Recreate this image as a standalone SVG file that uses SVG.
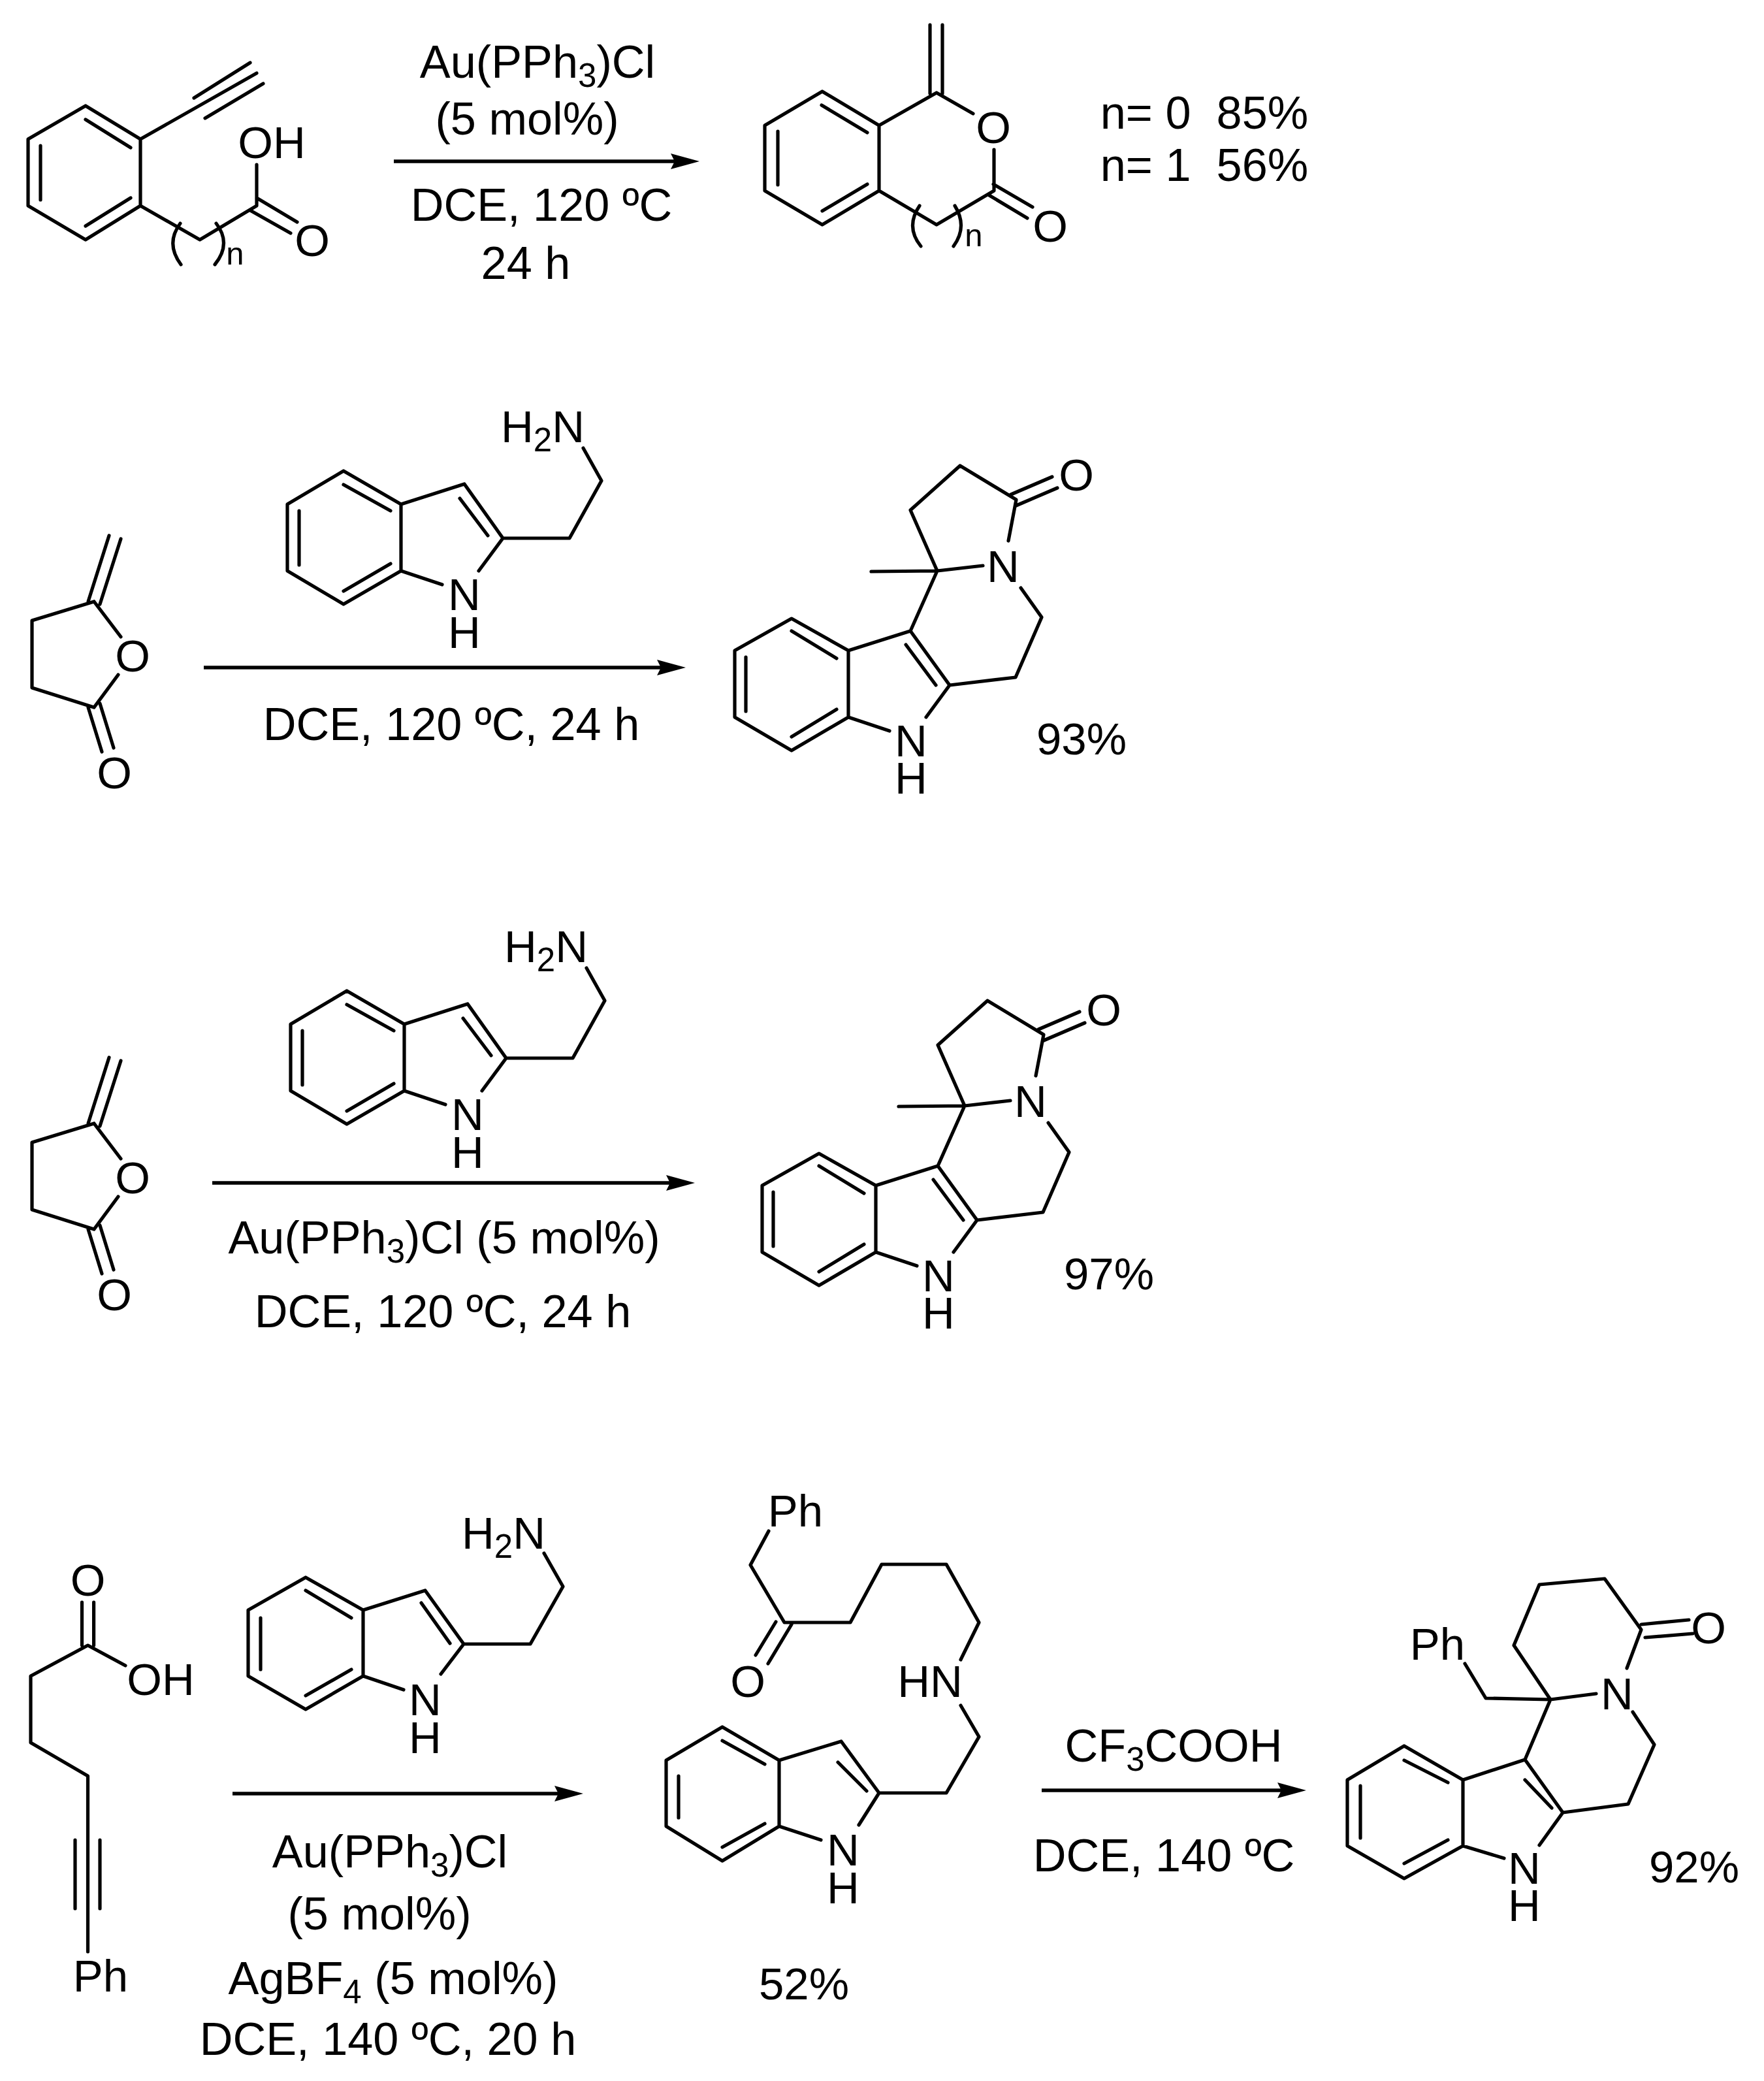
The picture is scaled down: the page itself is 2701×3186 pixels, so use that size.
<svg xmlns="http://www.w3.org/2000/svg" width="2701" height="3186" viewBox="0 0 2701 3186">
<style>
.b{fill:none;stroke:#000;stroke-width:5.2;stroke-linecap:round;stroke-linejoin:round}
.t{font-family:"Liberation Sans",Arial,sans-serif;font-size:69px;fill:#000;text-anchor:middle;white-space:pre}
.r{font-size:70.3px}
.s{font-size:51px}
.n{font-size:49px}
.a{fill:none;stroke:#000;stroke-width:5.5;marker-end:url(#head)}
</style>
<defs>
<marker id="head" markerUnits="userSpaceOnUse" markerWidth="46" markerHeight="26" viewBox="0 0 46 26" refX="10" refY="13" overflow="visible"><path d="M1,1 L45,13 L1,25 L7,13 Z" fill="#000"/></marker>
</defs>
<rect width="2701" height="3186" fill="#fff"/>

<g id="r1-reactant">
<path class="b" d="M131,162 L215,213 L215,315 L131,367 L43,315 L43,213 Z M131,183 L200,226 M62,223 L62,306 M200,303 L131,346 M215,213 L393,112 M297,150 L383,96 M314,181 L403,128 M215,315 L306,367 L393,315 L393,252 M393,303 L455,340 M383,322 L445,357 M276,342 Q253,373 277,405 M331,342 Q355,373 329,405"/>
<text class="t" x="416" y="242">OH</text>
<text class="t" x="478" y="392">O</text>
<text class="t n" x="360" y="405">n</text>
</g>

<g id="r1-product">
<path class="b" d="M1259,140 L1346,192 L1346,292 L1259,344 L1171,292 L1171,192 Z M1258,161 L1328,203 M1191,201 L1191,283 M1328,282 L1259,323 M1346,192 L1434,142 L1490,174 M1424,143 L1424,38 M1443,143 L1443,38 M1522,229 L1522,292 L1434,344 L1346,292 M1521,282 L1581,317 M1513,298 L1573,334 M1408,315 Q1386,347 1410,377 M1462,315 Q1482,347 1460,377"/>
<text class="t" x="1521" y="219">O</text>
<text class="t" x="1608" y="370">O</text>
<text class="t n" x="1491" y="377">n</text>
</g>

<g id="r1-labels">
<text class="t r" x="823" y="119">Au(PPh<tspan class="s" dy="14">3</tspan><tspan dy="-14">)Cl</tspan></text>
<text class="t r" x="807" y="206">(5 mol%)</text>
<text class="t r" x="829" y="338">DCE, 120 ºC</text>
<text class="t r" x="805" y="427">24 h</text>
<text class="t r" x="1844" y="197">n= 0  85%</text>
<text class="t r" x="1844" y="277">n= 1  56%</text>
</g>

<g id="r2-lactone">
<path class="b" d="M144,921 L49,950 L49,1053 L144,1083 M135,921 L167,820 M153,925 L185,825 M144,921 L185,975 M181,1033 L144,1083 M135,1083 L156,1151 M153,1077 L174,1145"/>
<text class="t" x="203" y="1028">O</text>
<text class="t" x="175" y="1207">O</text>
</g>

<g id="r2-amine">
<path class="b" d="M526,721 L614,772 L614,874 L526,925 L440,874 L440,772 Z M526,742 L598,782 M458,782 L458,865 M598,863 L526,905 M614,772 L711,741 L770,824 L872,824 L921,736 L893,686 M704,763 L747,820 M614,874 L677,895 M770,824 L733,874"/>
<text class="t" x="711" y="934">N</text>
<text class="t" x="711" y="992">H</text>
<text class="t" x="831" y="677">H<tspan class="s" dy="14">2</tspan><tspan dy="-14">N</tspan></text>
</g>

<g id="r2-product">
<path class="b" d="M1212,947 L1299,996 L1299,1098 L1212,1149 L1125,1098 L1125,996 Z M1212,966 L1281,1008 M1142,1006 L1142,1089 M1281,1086 L1212,1128 M1299,996 L1394,966 L1454,1049 L1555,1037 L1595,945 L1563,900 M1387,987 L1433,1049 M1454,1049 L1418,1098 M1299,1098 L1362,1119 M1394,966 L1435,874 L1394,781 L1470,713 L1556,765 L1544,828 M1334,875 L1435,874 L1505,866 M1548,757 L1611,730 M1556,774 L1619,747"/>
<text class="t" x="1395" y="1158">N</text>
<text class="t" x="1395" y="1215">H</text>
<text class="t" x="1536" y="891">N</text>
<text class="t" x="1648" y="751">O</text>
<text class="t" x="1656" y="1155">93%</text>
</g>
<text class="t r" x="691" y="1133">DCE, 120 ºC, 24 h</text>

<g id="r3-lactone" transform="translate(0,799)">
<path class="b" d="M144,921 L49,950 L49,1053 L144,1083 M135,921 L167,820 M153,925 L185,825 M144,921 L185,975 M181,1033 L144,1083 M135,1083 L156,1151 M153,1077 L174,1145"/>
<text class="t" x="203" y="1028">O</text>
<text class="t" x="175" y="1207">O</text>
</g>

<g id="r3-amine" transform="translate(5,796)">
<path class="b" d="M526,721 L614,772 L614,874 L526,925 L440,874 L440,772 Z M526,742 L598,782 M458,782 L458,865 M598,863 L526,905 M614,772 L711,741 L770,824 L872,824 L921,736 L893,686 M704,763 L747,820 M614,874 L677,895 M770,824 L733,874"/>
<text class="t" x="711" y="934">N</text>
<text class="t" x="711" y="992">H</text>
<text class="t" x="831" y="677">H<tspan class="s" dy="14">2</tspan><tspan dy="-14">N</tspan></text>
</g>

<g id="r3-product" transform="translate(42,819)">
<path class="b" d="M1212,947 L1299,996 L1299,1098 L1212,1149 L1125,1098 L1125,996 Z M1212,966 L1281,1008 M1142,1006 L1142,1089 M1281,1086 L1212,1128 M1299,996 L1394,966 L1454,1049 L1555,1037 L1595,945 L1563,900 M1387,987 L1433,1049 M1454,1049 L1418,1098 M1299,1098 L1362,1119 M1394,966 L1435,874 L1394,781 L1470,713 L1556,765 L1544,828 M1334,875 L1435,874 L1505,866 M1548,757 L1611,730 M1556,774 L1619,747"/>
<text class="t" x="1395" y="1158">N</text>
<text class="t" x="1395" y="1215">H</text>
<text class="t" x="1536" y="891">N</text>
<text class="t" x="1648" y="751">O</text>
<text class="t" x="1656" y="1155">97%</text>
</g>
<g id="r3-labels">
<text class="t r" x="680" y="1919">Au(PPh<tspan class="s" dy="14">3</tspan><tspan dy="-14">)Cl (5 mol%)</tspan></text>
<text class="t r" x="678" y="2032">DCE, 120 ºC, 24 h</text>
</g>

<g id="r4-alkyne">
<path class="b" d="M192,2550 L134.5,2519 L47,2566 L47,2668 L134.5,2719 L134.5,2988 M125.5,2519 L125.5,2453 M143.6,2519 L143.6,2453 M115,2817 L115,2922 M153,2817 L153,2922"/>
<text class="t" x="134.5" y="2443">O</text>
<text class="t" x="246" y="2595">OH</text>
<text class="t" x="154" y="3049">Ph</text>
</g>

<g id="r4-amine">
<path class="b" d="M468,2415 L556,2465 L556,2566 L468,2617 L380,2566 L380,2465 Z M468,2435 L538,2477 M399,2477 L399,2556 M538,2556 L468,2596 M556,2465 L651,2435 L710,2517 L812,2517 L862,2429 L833,2378 M645,2454 L689,2516 M556,2566 L618,2587 M710,2517 L675,2563"/>
<text class="t" x="651" y="2626">N</text>
<text class="t" x="651" y="2684">H</text>
<text class="t" x="771" y="2371">H<tspan class="s" dy="14">2</tspan><tspan dy="-14">N</tspan></text>
</g>

<g id="r4-labels">
<text class="t r" x="597" y="2859">Au(PPh<tspan class="s" dy="14">3</tspan><tspan dy="-14">)Cl</tspan></text>
<text class="t r" x="581" y="2954">(5 mol%)</text>
<text class="t r" x="602" y="3053">AgBF<tspan class="s" dy="14">4</tspan><tspan dy="-14"> (5 mol%)</tspan></text>
<text class="t r" x="594" y="3146">DCE, 140 ºC, 20 h</text>
<text class="t r" x="1797" y="2697">CF<tspan class="s" dy="14">3</tspan><tspan dy="-14">COOH</tspan></text>
<text class="t r" x="1782" y="2865">DCE, 140 ºC</text>
</g>

<g id="r4-intermediate">
<path class="b" d="M1177,2344 L1149,2396 L1201,2484 L1302,2484 L1350,2395 L1449,2395 L1499,2484 L1471,2541 M1471,2611 L1499,2659 L1449,2745 L1346,2745 L1288,2666 L1193,2695 L1193,2796 L1106,2849 L1020,2796 L1020,2695 L1106,2644 L1193,2695 M1193,2796 L1257,2817 M1346,2745 L1315,2794 M1188,2483 L1157,2534 M1212,2487 L1176,2547 M1106,2665 L1171,2701 M1039,2719 L1039,2783 M1171,2792 L1106,2828 M1283,2698 L1327,2742"/>
<text class="t" x="1218" y="2337">Ph</text>
<text class="t" x="1145" y="2598">O</text>
<text class="t" x="1424" y="2598">HN</text>
<text class="t" x="1291" y="2856">N</text>
<text class="t" x="1291" y="2914">H</text>
<text class="t" x="1231" y="3061">52%</text>
</g>

<g id="r4-product">
<path class="b" d="M2150,2673 L2240,2725 L2240,2826 L2150,2876 L2063,2826 L2063,2725 Z M2150,2695 L2217,2729 M2083,2734 L2083,2814 M2217,2817 L2150,2853 M2240,2725 L2335,2694 L2393,2775 L2493,2762 L2533,2671 L2500,2621 M2335,2725 L2376,2768 M2240,2826 L2303,2845 M2393,2775 L2357,2825 M2335,2694 L2374,2602 L2444,2593 M2374,2602 L2275,2600 L2243,2547 M2374,2602 L2318,2519 L2357,2426 L2457,2417 L2513,2495 L2491,2554 M2513,2487 L2586,2480 M2519,2507 L2592,2501"/>
<text class="t" x="2334" y="2884">N</text>
<text class="t" x="2334" y="2941">H</text>
<text class="t" x="2476" y="2617">N</text>
<text class="t" x="2616" y="2516">O</text>
<text class="t" x="2201" y="2541">Ph</text>
<text class="t" x="2594" y="2882">92%</text>
</g>

<g id="connectors">
<line class="a" x1="603" y1="247" x2="1036" y2="247"/>
<line class="a" x1="312" y1="1022" x2="1015" y2="1022"/>
<line class="a" x1="325" y1="1811" x2="1029" y2="1811"/>
<line class="a" x1="356" y1="2746" x2="858" y2="2746"/>
<line class="a" x1="1595" y1="2741" x2="1965" y2="2741"/>
</g>
</svg>
